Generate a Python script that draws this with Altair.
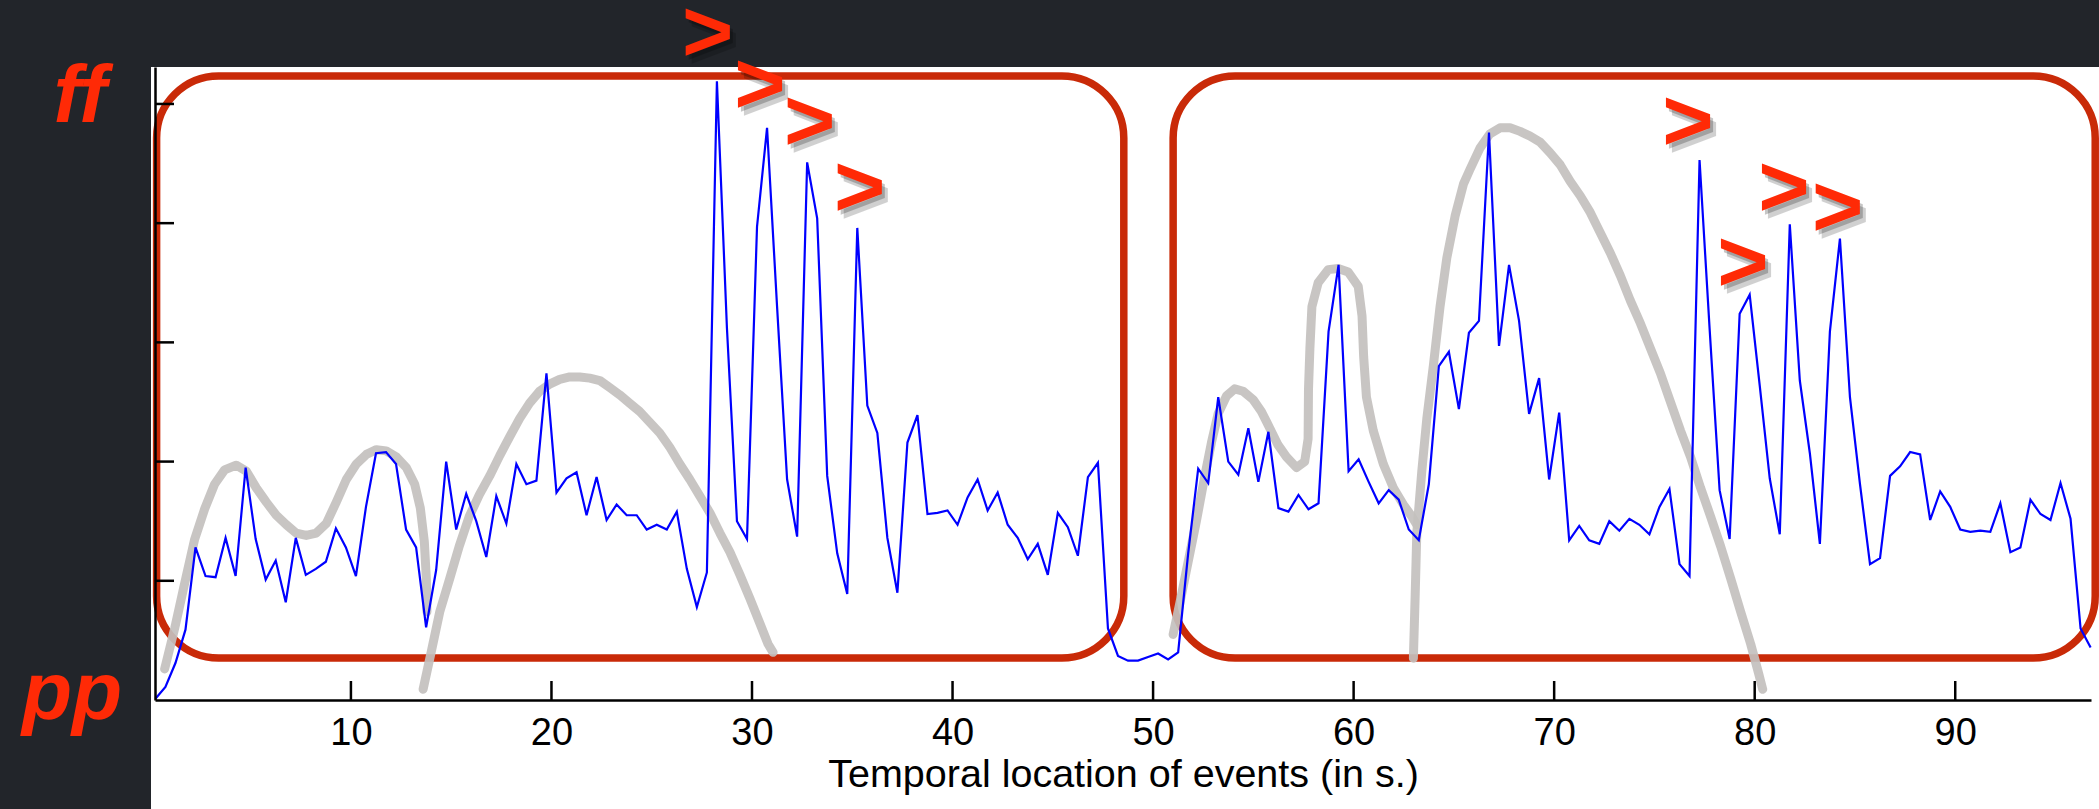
import altair as alt
import pandas as pd

# ---------------- data ----------------
t_start = 0.25
t_step = 0.5
blue_values = [
    0.01, 0.11, 0.31, 0.59, 1.28, 1.04, 1.03, 1.36, 1.04, 1.95,
    1.35, 1.01, 1.17, 0.82, 1.36, 1.05, 1.10, 1.16, 1.44, 1.28,
    1.04, 1.62, 2.07, 2.08, 1.98, 1.43, 1.28, 0.61, 1.09, 2.00,
    1.43, 1.73, 1.50, 1.20, 1.71, 1.48, 1.98, 1.81, 1.84, 2.74,
    1.74, 1.86, 1.91, 1.55, 1.87, 1.51, 1.64, 1.55, 1.55, 1.43,
    1.47, 1.43, 1.58, 1.10, 0.78, 1.07, 5.19, 3.12, 1.50, 1.35,
    3.97, 4.80, 3.30, 1.85, 1.37, 4.51, 4.04, 1.88, 1.23, 0.89,
    3.96, 2.47, 2.24, 1.36, 0.90, 2.16, 2.39, 1.56, 1.57, 1.59,
    1.47, 1.70, 1.85, 1.59, 1.74, 1.47, 1.36, 1.18, 1.31, 1.05,
    1.57, 1.45, 1.21, 1.87, 1.99, 0.60, 0.37, 0.33, 0.33, 0.36,
    0.39, 0.34, 0.40, 1.23, 1.94, 1.82, 2.54, 2.00, 1.89, 2.28,
    1.83, 2.25, 1.61, 1.58, 1.72, 1.60, 1.65, 3.09, 3.65, 1.92,
    2.02, 1.83, 1.65, 1.76, 1.68, 1.43, 1.34, 1.81, 2.80, 2.92,
    2.44, 3.08, 3.18, 4.76, 2.97, 3.65, 3.18, 2.40, 2.70, 1.85,
    2.41, 1.34, 1.46, 1.34, 1.31, 1.50, 1.42, 1.52, 1.47, 1.39,
    1.62, 1.77, 1.14, 1.04, 4.53, 3.12, 1.76, 1.35, 3.24, 3.40,
    2.64, 1.86, 1.39, 3.99, 2.68, 2.07, 1.31, 3.09, 3.87, 2.54,
    1.81, 1.14, 1.19, 1.88, 1.96, 2.08, 2.06, 1.51, 1.75, 1.62,
    1.43, 1.41, 1.42, 1.41, 1.65, 1.24, 1.28, 1.68, 1.56, 1.51,
    1.82, 1.52, 0.60, 0.44,
]
blue_times = [t_start + t_step * i for i in range(len(blue_values))]

# hand-drawn grey contours
g1_x = [0.71, 1.21, 1.71, 2.21, 2.70, 3.20, 3.70, 4.28, 4.78, 5.28, 5.78, 6.28, 6.78,
        7.27, 7.77, 8.27, 8.77, 9.27, 9.77, 10.27, 10.77, 11.27, 11.76, 12.26, 12.76,
        13.18, 13.46, 13.66, 13.76, 13.79]
g1_y = [0.26, 0.60, 0.98, 1.35, 1.60, 1.81, 1.93, 1.97, 1.92, 1.78, 1.66, 1.55, 1.47,
        1.40, 1.38, 1.40, 1.48, 1.66, 1.85, 1.98, 2.06, 2.10, 2.09, 2.04, 1.95,
        1.81, 1.61, 1.33, 1.02, 0.74]
g2_x = [13.6, 14.0, 14.43, 14.93, 15.4, 15.9, 16.4, 16.92, 17.42, 17.92, 18.41, 18.91,
        19.41, 19.91, 20.41, 20.91, 21.41, 21.91, 22.41, 22.91, 23.4, 23.9, 24.4, 24.9,
        25.4, 25.9, 26.4, 26.9, 27.4, 27.9, 28.4, 28.9, 29.4, 29.9, 30.4, 30.8, 31.05]
g2_y = [0.09, 0.40, 0.74, 1.02, 1.29, 1.54, 1.72, 1.88, 2.05, 2.21, 2.36, 2.49,
        2.59, 2.65, 2.69, 2.71, 2.71, 2.70, 2.68, 2.62, 2.56, 2.49, 2.42, 2.33,
        2.24, 2.12, 1.98, 1.85, 1.71, 1.57, 1.40, 1.24, 1.05, 0.85, 0.64, 0.47, 0.40]
g3_x = [51.0, 51.33, 51.75, 52.16, 52.58, 52.91, 53.24, 53.66, 54.07, 54.49, 54.99, 55.4,
        55.82, 56.23, 56.65, 57.15, 57.56, 57.73, 57.75, 57.82, 57.92, 58.23, 58.73, 59.23,
        59.73, 60.23, 60.42, 60.5, 60.64, 60.98, 61.48, 61.98, 62.48, 62.9, 63.15]
g3_y = [0.55, 0.81, 1.16, 1.50, 1.88, 2.16, 2.40, 2.55, 2.61, 2.59, 2.52, 2.42,
        2.28, 2.14, 2.04, 1.95, 2.00, 2.19, 2.61, 2.95, 3.30, 3.50, 3.61, 3.62,
        3.59, 3.47, 3.22, 2.88, 2.54, 2.26, 1.98, 1.78, 1.64, 1.54, 1.47]
g4_x = [62.98, 63.07, 63.15, 63.4, 63.65, 63.98, 64.31, 64.65, 65.06, 65.48, 65.8, 66.3,
        66.8, 67.3, 67.8, 68.3, 68.8, 69.3, 69.8, 70.3, 70.8, 71.3, 71.8, 72.3, 72.8, 73.3,
        73.8, 74.3, 74.8, 75.3, 75.8, 76.3, 76.8, 77.3, 77.8, 78.3, 78.8, 79.3, 79.8, 80.2, 80.4]
g4_y = [0.35, 0.88, 1.40, 1.92, 2.36, 2.81, 3.30, 3.71, 4.06, 4.33, 4.45, 4.63,
        4.75, 4.80, 4.80, 4.77, 4.73, 4.68, 4.59, 4.49, 4.35, 4.23, 4.09, 3.92, 3.75, 3.56,
        3.35, 3.16, 2.95, 2.74, 2.50, 2.26, 2.04, 1.78, 1.54, 1.29, 1.02, 0.74, 0.47, 0.22, 0.09]

# red rounded boxes (segments)
box_x0 = [0.31, 51.0]
box_x1 = [48.54, 96.98]
box_y0 = [0.352, 0.352]
box_y1 = [5.235, 5.235]

# red ">" marks
chev_x = [27.79, 30.39, 32.88, 35.37, 76.67, 79.41, 81.46, 84.14]
chev_y = [5.62, 5.18, 4.87, 4.32, 4.87, 3.69, 4.32, 4.15]

x_tick_values = [10, 20, 30, 40, 50, 60, 70, 80, 90]
y_tick_values = [1, 2, 3, 4, 5]
x_title = "Temporal location of events (in s.)"

# ---------------- build ----------------
W, H = 1936, 633
FONT = "Liberation Sans"

xscale = alt.Scale(domain=[0.23, 96.77], nice=False, zero=False)
yscale = alt.Scale(domain=[0, 5.31], nice=False, zero=False)
xaxis = alt.Axis(values=x_tick_values, tickSize=0, labelFontSize=38, labelFont=FONT,
                 labelColor="black", labelPadding=14, labelFlush=False,
                 title=x_title, titleFontSize=39.5, titleFont=FONT, titleFontWeight="normal",
                 titleColor="black", titlePadding=3, domainColor="black", domainWidth=2.5,
                 grid=False, zindex=2)
yaxis = alt.Axis(labels=False, ticks=False, title=None, domainColor="black",
                 domainWidth=2.5, grid=False, zindex=2)


def X(f):
    return alt.X(f, type="quantitative", scale=xscale, axis=xaxis)


def Y(f):
    return alt.Y(f, type="quantitative", scale=yscale, axis=yaxis)


one = pd.DataFrame({"a": [0]})

panel = alt.Chart(one).mark_rect(color="white").encode(
    x=alt.value(-4), x2=alt.value(W + 8), y=alt.value(0), y2=alt.value(H + 109)
)

blue_df = pd.DataFrame({"t": blue_times, "v": blue_values})
grey_rows = []
for s, (gx, gy) in enumerate([(g1_x, g1_y), (g2_x, g2_y), (g3_x, g3_y), (g4_x, g4_y)]):
    for k, (a, b) in enumerate(zip(gx, gy)):
        grey_rows.append({"seg": s, "k": k, "t": a, "v": b})
grey_df = pd.DataFrame(grey_rows)
box_df = pd.DataFrame({"x0": box_x0, "x1": box_x1, "y0": box_y0, "y1": box_y1})
chev_df = pd.DataFrame({"t": chev_x, "v": chev_y})

boxes = alt.Chart(box_df).mark_rect(
    filled=False, stroke="#c92a08", strokeWidth=7.5, cornerRadius=62
).encode(x=X("x0"), x2="x1", y=Y("y0"), y2="y1")

grey = alt.Chart(grey_df).mark_line(
    color="#c3c0be", strokeWidth=9, strokeCap="round", strokeJoin="round",
    opacity=0.92
).encode(x=X("t"), y=Y("v"), detail="seg:N", order="k:Q")

blue = alt.Chart(blue_df).mark_line(color="#0000ff", strokeWidth=2.2).encode(
    x=X("t"), y=Y("v")
)

yt = alt.Chart(pd.DataFrame({"v": y_tick_values})).mark_rule(
    color="black", strokeWidth=2.5
).encode(y=Y("v"), x=alt.value(0), x2=alt.value(19))
xt = alt.Chart(pd.DataFrame({"t": x_tick_values})).mark_rule(
    color="black", strokeWidth=2.5
).encode(x=X("t"), y=alt.value(H), y2=alt.value(H - 19))

shadow1 = alt.Chart(chev_df).mark_text(
    text=">", font=FONT, fontWeight="bold", fontSize=88, color="black",
    opacity=0.18, dx=6, dy=13, baseline="middle", align="center"
).encode(x=X("t"), y=Y("v"))
shadow2 = alt.Chart(chev_df).mark_text(
    text=">", font=FONT, fontWeight="bold", fontSize=88, color="black",
    opacity=0.22, dx=3, dy=9, baseline="middle", align="center"
).encode(x=X("t"), y=Y("v"))
chev = alt.Chart(chev_df).mark_text(
    text=">", font=FONT, fontWeight="bold", fontSize=88, color="#ff2a06",
    dy=5, baseline="middle", align="center"
).encode(x=X("t"), y=Y("v"))

ff = alt.Chart(one).mark_text(
    text="ff", font=FONT, fontWeight="bold", fontStyle="italic", fontSize=82,
    color="#ff2a06", align="center", baseline="alphabetic"
).encode(x=alt.value(-75), y=alt.value(55))
pp = alt.Chart(one).mark_text(
    text="pp", font=FONT, fontWeight="bold", fontStyle="italic", fontSize=82,
    color="#ff2a06", align="center", baseline="alphabetic"
).encode(x=alt.value(-83), y=alt.value(652))

chart = alt.layer(
    panel, boxes, grey, blue, yt, xt, shadow1, shadow2, chev, ff, pp
).properties(
    width=W, height=H,
    autosize=alt.AutoSizeParams(type="none"),
    padding={"left": 155, "top": 67, "right": 8, "bottom": 109},
    background="#22252a",
).configure_view(stroke=None)

chart.save("out.html", embed_options={"renderer": "svg", "actions": False})
